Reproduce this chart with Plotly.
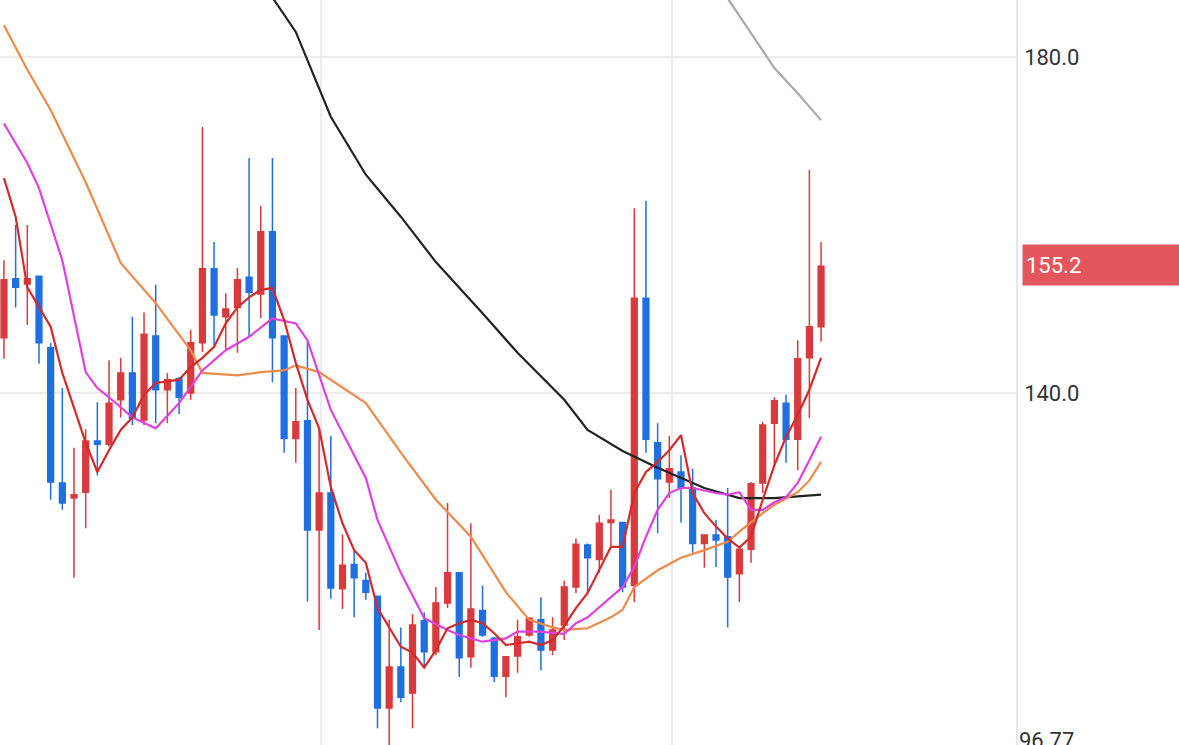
import plotly.graph_objects as go

# ---- candles (index 0..70) ----
opens = [146.6, 153.6, 153.0, 153.9, 145.4, 129.3, 127.5, 128.2, 134.3, 133.9,
         139.2, 142.4, 136.8, 146.8, 140.4, 141.7, 140.0, 146.0, 154.8, 149.1,
         150.2, 153.8, 151.8, 159.2, 146.8, 134.6, 136.7, 123.7, 128.1, 116.7,
         119.6, 117.7, 115.8, 102.5, 107.4, 104.3, 112.9, 109.2, 115.0, 118.6,
         108.6, 114.1, 110.8, 106.3, 108.7, 111.2, 113.0, 109.4, 112.4, 116.9,
         121.9, 120.2, 124.6, 124.6, 117.1, 151.3, 134.1, 129.4, 130.6, 128.7,
         122.1, 123.1, 122.9, 118.5, 121.4, 129.3, 136.4, 138.8, 134.5, 144.2,
         147.9]
highs = [155.8, 160.0, 160.0, 153.9, 146.0, 140.6, 133.5, 135.7, 138.9, 143.9,
         144.2, 149.1, 149.6, 152.9, 142.4, 141.9, 147.5, 171.7, 158.0, 151.9,
         154.9, 168.0, 162.3, 168.0, 146.8, 140.6, 146.3, 135.8, 134.9, 123.2,
         121.3, 118.6, 115.8, 113.0, 112.1, 113.7, 113.9, 116.9, 126.9, 118.7,
         124.5, 117.1, 111.0, 108.6, 113.0, 113.3, 115.7, 113.3, 117.7, 122.7,
         122.1, 125.5, 128.5, 124.6, 162.0, 162.9, 136.4, 134.9, 132.6, 131.0,
         123.1, 124.9, 128.7, 121.6, 129.4, 136.6, 139.5, 139.8, 146.3, 166.6,
         158.0]
lows = [144.1, 150.2, 148.1, 143.5, 127.3, 126.1, 118.0, 123.9, 130.2, 133.6,
        137.1, 136.2, 136.2, 136.4, 136.4, 137.5, 139.2, 144.9, 145.5, 145.2,
        144.8, 146.7, 148.9, 141.3, 132.9, 131.7, 115.2, 111.8, 115.5, 114.3,
        113.3, 115.4, 100.1, 98.1, 103.2, 100.1, 107.4, 108.8, 114.4, 106.2,
        107.3, 111.0, 105.6, 103.8, 106.7, 111.0, 107.0, 108.8, 110.6, 116.2,
        116.2, 118.6, 121.6, 116.3, 115.1, 132.9, 123.3, 127.5, 124.6, 121.0,
        119.2, 119.3, 112.1, 115.1, 119.8, 128.1, 131.4, 131.7, 130.8, 137.0,
        146.1]
closes = [153.5, 152.6, 153.6, 146.0, 129.4, 126.9, 127.9, 134.3, 133.9, 138.8,
          142.4, 137.0, 147.0, 140.4, 141.6, 139.5, 146.0, 154.8, 149.3, 150.0,
          153.5, 152.0, 159.2, 146.6, 134.6, 136.6, 123.7, 128.1, 116.8, 119.5,
          118.0, 116.3, 102.5, 107.4, 103.8, 112.4, 109.2, 115.0, 118.6, 108.5,
          114.3, 111.2, 106.3, 108.6, 111.0, 113.2, 109.4, 111.8, 116.9, 122.0,
          120.4, 124.5, 124.9, 116.9, 151.3, 134.5, 129.8, 131.0, 128.7, 122.1,
          123.1, 122.5, 118.1, 121.4, 129.2, 136.2, 139.1, 134.5, 144.1, 147.9,
          155.1]
idx = list(range(len(opens)))

# ---- moving averages (read at selected candle indices) ----
ma5_x = list(range(71))
ma5_y = [165.6, 161.0, 152.6, 150.2, 147.9, 142.4, 138.3, 134.1, 130.6, 133.2,
         135.6, 137.1, 139.8, 141.2, 141.4, 141.6, 143.1, 144.2, 145.5, 148.3,
         150.2, 151.4, 152.3, 152.5, 148.7, 143.6, 139.2, 135.8, 128.8, 124.5,
         121.3, 119.8, 114.4, 112.1, 109.8, 109.1, 107.3, 109.4, 112.0, 112.6,
         113.0, 112.6, 111.4, 110.0, 110.2, 110.4, 110.0, 110.6, 112.3, 114.4,
         116.2, 118.9, 121.7, 121.7, 128.1, 130.6, 131.8, 133.2, 135.0, 128.1,
         125.7, 124.1, 122.7, 121.6, 122.9, 127.3, 131.4, 134.8, 137.4, 140.4,
         144.2]
ma10_x = [0, 2, 3, 5, 7, 8, 9, 11, 13, 15, 17, 19, 21, 23, 25, 26, 28, 31, 32,
          34, 36, 38, 39, 41, 43, 44, 46, 48, 49, 50, 52, 53, 54, 55, 56, 57, 58,
          59, 61, 62, 63, 64, 65, 66, 67, 68, 69, 70]
ma10_y = [172.1, 167.4, 164.4, 155.8, 142.5, 140.6, 139.5, 137.1, 135.8, 138.8,
          142.7, 145.1, 146.7, 148.9, 148.3, 146.3, 138.0, 129.9, 124.9, 118.6,
          113.2, 111.8, 111.2, 110.4, 110.8, 111.6, 111.6, 111.3, 112.6, 113.3,
          115.7, 116.9, 119.3, 122.9, 126.1, 128.1, 128.7, 128.7, 128.1, 127.9,
          128.2, 126.1, 126.1, 127.0, 127.6, 129.3, 132.0, 134.8]
ma20_x = [0, 2, 4, 7, 10, 13, 16, 17, 20, 22, 24, 25, 27, 31, 34, 37, 40, 43,
          45, 47, 48, 50, 52, 53, 54, 56, 58, 60, 62, 63, 65, 66, 68, 69, 70]
ma20_y = [183.8, 178.5, 173.7, 165.1, 155.5, 150.7, 145.1, 142.4, 142.1, 142.5,
          142.7, 143.3, 142.5, 138.8, 132.9, 127.3, 122.9, 116.3, 113.0, 112.1,
          111.8, 112.0, 113.3, 114.2, 116.9, 118.9, 120.4, 121.3, 122.3, 123.5,
          125.7, 126.7, 128.2, 129.6, 131.8]
ma60_x = [23, 25, 28, 31, 34, 37, 41, 44, 48, 50, 53, 56, 60, 63, 66, 70]
ma60_y = [187.1, 183.0, 172.9, 166.0, 161.0, 155.6, 149.5, 144.8, 139.2, 135.6,
          133.1, 131.1, 128.7, 127.5, 127.5, 127.9]
ma120_x = [62, 64, 66, 68, 70]
ma120_y = [187.0, 182.9, 178.7, 175.7, 172.5]

last_price = 155.2
tick_vals = [140.0, 180.0]
tick_text = ["140.0", "180.0"]

UP = "#d93a3d"
DOWN = "#1f6fe0"

fig = go.Figure()
fig.add_trace(go.Candlestick(
    x=idx, open=opens, high=highs, low=lows, close=closes,
    increasing=dict(line=dict(color=UP, width=1.5), fillcolor=UP),
    decreasing=dict(line=dict(color=DOWN, width=1.5), fillcolor=DOWN),
    whiskerwidth=0, showlegend=False, hoverinfo="skip",
))

for xs, ys, col in [
    (ma120_x, ma120_y, "#aaaaaa"),
    (ma60_x, ma60_y, "#222222"),
    (ma20_x, ma20_y, "#ee8a4a"),
    (ma10_x, ma10_y, "#e040e0"),
    (ma5_x, ma5_y, "#d42a2a"),
]:
    fig.add_trace(go.Scatter(x=xs, y=ys, mode="lines",
                             line=dict(color=col, width=2.2),
                             showlegend=False, hoverinfo="skip"))

fig.add_annotation(
    x=1, xref="paper", y=last_price, yref="y", xanchor="left", yanchor="middle",
    text=f"{last_price:.1f}", showarrow=False, xshift=6,
    bgcolor="#e3575c", font=dict(color="white", size=22, family="Roboto"),
    width=150, height=34, align="left", borderpad=3,
)
fig.add_annotation(
    x=1, xref="paper", y=0, yref="paper", xanchor="left", yanchor="bottom",
    text="96.77", showarrow=False, xshift=1, yshift=-10,
    font=dict(color="#333333", size=22, family="Roboto"),
)

fig.update_layout(
    width=1179, height=745,
    margin=dict(l=0, r=163, t=0, b=0),
    plot_bgcolor="white", paper_bgcolor="white",
    xaxis=dict(range=[-0.34, 86.7], rangeslider=dict(visible=False),
               tickvals=[27.2, 57.2], showticklabels=False,
               showgrid=True, gridcolor="#ececec", gridwidth=1.5,
               zeroline=False, showline=False),
    yaxis=dict(range=[98.1, 186.8], side="right", tickvals=tick_vals,
               ticktext=tick_text, showgrid=True, gridcolor="#ececec",
               gridwidth=1.5, zeroline=False, showline=True,
               linecolor="#e6e6e6", linewidth=1.5,
               tickfont=dict(size=22, color="#333333", family="Roboto"),
               ticks="", ticklabelstandoff=2),
)

fig.write_html("out.html", config={"displayModeBar": False},
               post_script="document.body.style.margin='0';")
